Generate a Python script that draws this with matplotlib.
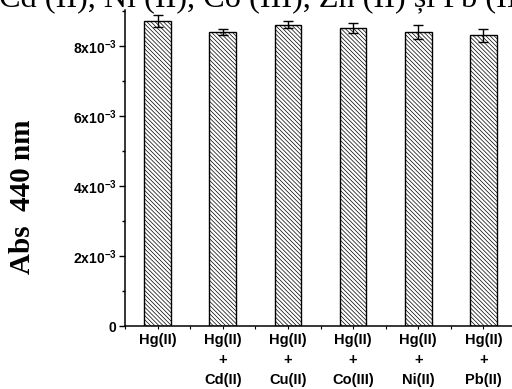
import matplotlib
matplotlib.use("Agg")
import matplotlib.pyplot as plt
from matplotlib.ticker import FixedLocator, MultipleLocator

# absorbance at 440 nm, Hg(II) alone and with each interfering ion
labels = ["Hg(II)", "Hg(II)\n+\nCd(II)", "Hg(II)\n+\nCu(II)",
          "Hg(II)\n+\nCo(III)", "Hg(II)\n+\nNi(II)", "Hg(II)\n+\nPb(II)"]
absorb = [8.71e-3, 8.41e-3, 8.61e-3, 8.51e-3, 8.41e-3, 8.31e-3]
err    = [0.17e-3, 0.09e-3, 0.10e-3, 0.15e-3, 0.20e-3, 0.19e-3]
yticks = [0, 2e-3, 4e-3, 6e-3, 8e-3]
ytick_labels = ["0", "2x10$^{-3}$", "4x10$^{-3}$", "6x10$^{-3}$", "8x10$^{-3}$"]

plt.rcParams["mathtext.fontset"] = "custom"
plt.rcParams["mathtext.bf"] = "Liberation Sans:bold"
plt.rcParams["mathtext.rm"] = "Liberation Sans:bold"
plt.rcParams["mathtext.default"] = "bf"
plt.rcParams["hatch.linewidth"] = 0.5
plt.rcParams["hatch.color"] = "#666666"

fig = plt.figure(figsize=(5.12, 3.89), dpi=100)
ax = fig.add_axes([125 / 512, 63 / 389, 391 / 512, 316 / 389])

x = list(range(1, len(absorb) + 1))
ax.bar(x, absorb, width=0.41, color="white", edgecolor="black", lw=1.0,
       hatch="\\" * 8, zorder=2)
ax.errorbar(x, absorb, yerr=err, fmt="none", ecolor="black", elinewidth=1.0,
            capsize=3.8, capthick=1.0, zorder=3)

ax.set_xlim(0.5, 6.5)
ax.set_ylim(0, 9.03e-3)
ax.spines["top"].set_visible(False)
ax.spines["right"].set_visible(False)
ax.spines["left"].set_linewidth(1.1)
ax.spines["bottom"].set_linewidth(1.1)

ax.xaxis.set_major_locator(FixedLocator(x))
ax.xaxis.set_minor_locator(MultipleLocator(0.5))
ax.set_xticklabels(labels, fontsize=10.5, fontweight="bold",
                   family="Liberation Sans", linespacing=1.55, va="top")
ax.yaxis.set_major_locator(FixedLocator(yticks))
ax.yaxis.set_minor_locator(MultipleLocator(1e-3))
ax.set_yticklabels(ytick_labels, fontsize=10, fontweight="bold",
                   family="Liberation Sans")
ax.tick_params(axis="y", which="major", direction="out", length=4, width=1, pad=2)
ax.tick_params(axis="y", which="minor", direction="out", length=2.5, width=1)
ax.tick_params(axis="x", which="both", direction="out", length=2, width=0.8, pad=3)

ax.set_ylabel("Abs  440 nm", fontsize=21, fontweight="bold",
              family="Liberation Serif")
ax.yaxis.set_label_coords(-0.228, 0.41)

# running text of the page above the figure, clipped at the top edge
fig.text(-0.002, 1 - 7 / 389, "Cd (II), Ni (II), Co (III), Zn (II) și Pb (II)",
         fontsize=23.2, family="Liberation Serif", va="baseline", ha="left")

fig.savefig("out.png", dpi=100)
